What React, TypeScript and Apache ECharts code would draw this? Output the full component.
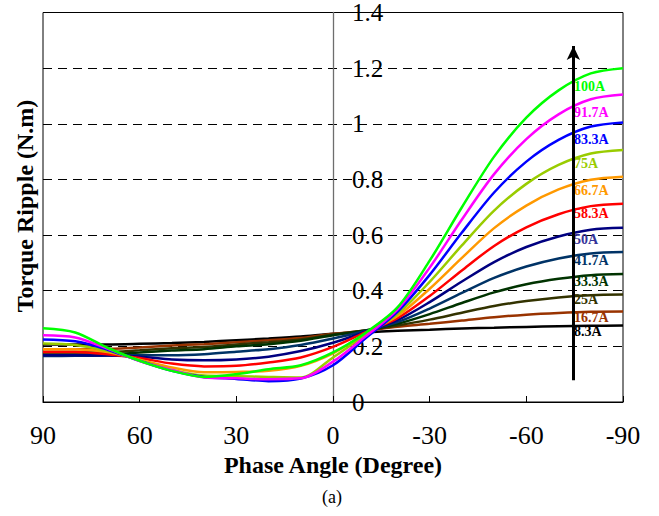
import React, { useEffect, useRef } from "react";
import * as echarts from "echarts";

// ---------- data ----------
const angles = [90, 80, 70, 60, 50, 40, 30, 20, 10, 0, -10, -20, -30, -40, -50, -60, -70, -80, -90];

const seriesNames = ["8.3A", "16.7A", "25A", "33.3A", "41.7A", "50A", "58.3A", "66.7A", "75A", "83.3A", "91.7A", "100A"];

const s8_3 = [0.207, 0.207, 0.207, 0.209, 0.212, 0.216, 0.222, 0.228, 0.235, 0.245, 0.25, 0.256, 0.26, 0.264, 0.267, 0.27, 0.272, 0.274, 0.275];
const s16_7 = [0.19, 0.19, 0.191, 0.196, 0.203, 0.208, 0.215, 0.222, 0.23, 0.245, 0.256, 0.27, 0.281, 0.293, 0.305, 0.314, 0.32, 0.324, 0.325];
const s25 = [0.178, 0.178, 0.179, 0.186, 0.193, 0.198, 0.207, 0.215, 0.225, 0.243, 0.257, 0.275, 0.296, 0.321, 0.345, 0.363, 0.376, 0.384, 0.386];
const s33_3 = [0.17, 0.17, 0.171, 0.178, 0.185, 0.19, 0.2, 0.208, 0.22, 0.24, 0.257, 0.281, 0.316, 0.356, 0.394, 0.423, 0.443, 0.456, 0.46];
const s41_7 = [0.165, 0.166, 0.167, 0.168, 0.168, 0.172, 0.181, 0.19, 0.205, 0.228, 0.255, 0.287, 0.336, 0.392, 0.446, 0.487, 0.516, 0.534, 0.539];
const s50 = [0.168, 0.168, 0.167, 0.163, 0.153, 0.15, 0.153, 0.163, 0.183, 0.213, 0.252, 0.294, 0.359, 0.433, 0.503, 0.557, 0.595, 0.619, 0.626];
const s58_3 = [0.18, 0.18, 0.172, 0.158, 0.138, 0.128, 0.13, 0.142, 0.16, 0.198, 0.25, 0.301, 0.381, 0.473, 0.561, 0.628, 0.675, 0.704, 0.713];
const s66_7 = [0.19, 0.19, 0.18, 0.152, 0.124, 0.107, 0.108, 0.112, 0.13, 0.175, 0.245, 0.309, 0.407, 0.518, 0.625, 0.706, 0.764, 0.799, 0.81];
const s75 = [0.21, 0.205, 0.183, 0.15, 0.115, 0.095, 0.093, 0.09, 0.088, 0.16, 0.24, 0.316, 0.432, 0.563, 0.688, 0.784, 0.852, 0.893, 0.906];
const s83_3 = [0.225, 0.218, 0.188, 0.148, 0.112, 0.09, 0.083, 0.075, 0.084, 0.132, 0.228, 0.324, 0.457, 0.609, 0.753, 0.864, 0.942, 0.99, 1.005];
const s91_7 = [0.24, 0.232, 0.192, 0.147, 0.115, 0.088, 0.085, 0.082, 0.085, 0.145, 0.235, 0.332, 0.483, 0.656, 0.819, 0.945, 1.034, 1.088, 1.105];
const s100 = [0.265, 0.25, 0.195, 0.148, 0.112, 0.09, 0.1, 0.118, 0.132, 0.178, 0.248, 0.34, 0.508, 0.7, 0.882, 1.022, 1.12, 1.181, 1.2];

const seriesValues = [s8_3, s16_7, s25, s33_3, s41_7, s50, s58_3, s66_7, s75, s83_3, s91_7, s100];

// arrow annotation (data coords)
const arrowAngle = -74.6;
const arrowFrom = 0.078;
const arrowTo = 1.28;

// ---------- styles / layout ----------
const seriesColors = ["#000000", "#993300", "#333300", "#003300", "#003366", "#000080", "#ff0000", "#ff9900", "#99cc00", "#0000ff", "#ff00ff", "#00ff00"];
const labelColors = ["#000000", "#993300", "#333300", "#003300", "#003366", "#333399", "#ff0000", "#ff9900", "#99cc00", "#0000ff", "#ff00ff", "#00ff00"];
const labelX = 574;
const labelYs = [331, 317, 299, 281, 260, 239.5, 213, 190.5, 163.5, 139, 112.5, 86];
const FONT = '"Liberation Serif", "Times New Roman", serif';
const GRID_LEFT = 43;
const GRID_RIGHT = 36;
const CHART_W = 659;

export default function App() {
  const ref = useRef<HTMLDivElement>(null);

  useEffect(() => {
    if (!ref.current) return;
    const chart = echarts.init(ref.current, null, { renderer: "svg" });

    const series: any[] = seriesValues.map((vals, si) => ({
      name: seriesNames[si],
      type: "line",
      data: angles.map((a, i) => [a, vals[i]]),
      showSymbol: false,
      smooth: 0.3,
      lineStyle: { color: seriesColors[si], width: 2.5 },
      itemStyle: { color: seriesColors[si] },
      z: 2 + si * 0.01,
    }));

    series.push({
      name: "arrow",
      type: "line",
      data: [],
      z: 5,
      markLine: {
        silent: true,
        symbol: ["none", "arrow"],
        symbolSize: [10, 14],
        label: { show: false },
        lineStyle: { color: "#000", width: 3, type: "solid" },
        data: [[{ coord: [arrowAngle, arrowFrom] }, { coord: [arrowAngle, arrowTo] }]],
      },
    });

    const graphics: any[] = seriesNames.map((n, i) => ({
      type: "text",
      x: labelX,
      y: labelYs[i],
      z: 1,
      style: {
        text: n,
        fill: labelColors[i],
        font: `bold 14px ${FONT}`,
        align: "left",
        verticalAlign: "middle",
      },
    }));
    graphics.push({
      type: "text",
      x: 25,
      y: 206,
      rotation: Math.PI / 2,
      style: {
        text: "Torque Ripple (N.m)",
        fill: "#000",
        font: `bold 24px ${FONT}`,
        align: "center",
        verticalAlign: "middle",
      },
    });
    graphics.push({
      type: "text",
      x: 332,
      y: 497,
      style: {
        text: "(a)",
        fill: "#000",
        font: `18px ${FONT}`,
        align: "center",
        verticalAlign: "middle",
      },
    });

    // y axis sits at phase angle 0 (middle of the plot width)
    const plotW = CHART_W - GRID_LEFT - GRID_RIGHT;
    const yAxisOffset = -plotW / 2;

    chart.setOption({
      animation: false,
      backgroundColor: "#fff",
      textStyle: { fontFamily: FONT },
      grid: {
        left: GRID_LEFT,
        right: GRID_RIGHT,
        top: 10,
        bottom: 114,
        show: true,
        borderColor: "#000",
        borderWidth: 1,
        backgroundColor: "transparent",
      },
      xAxis: {
        type: "value",
        min: -90,
        max: 90,
        interval: 30,
        inverse: true,
        name: "Phase Angle (Degree)",
        nameLocation: "middle",
        nameGap: 48,
        nameTextStyle: { fontFamily: FONT, fontWeight: "bold", fontSize: 24, color: "#000" },
        axisLine: { show: true, onZero: false, lineStyle: { color: "#000", width: 1 } },
        axisTick: { show: true, inside: true, length: 6, lineStyle: { color: "#000" } },
        axisLabel: { fontFamily: FONT, fontSize: 26, color: "#000", margin: 20 },
        splitLine: { show: false },
      },
      yAxis: {
        type: "value",
        min: 0,
        max: 1.4,
        interval: 0.2,
        position: "left",
        offset: yAxisOffset,
        axisLine: { show: true, onZero: false, lineStyle: { color: "#6e6e6e", width: 1.3 } },
        axisTick: { show: false },
        axisLabel: { inside: false, margin: -19, align: "left", fontFamily: FONT, fontSize: 25, color: "#000" },
        splitLine: { show: true, lineStyle: { color: "#000", width: 1, type: [9, 6] } },
      },
      graphic: graphics,
      series,
    });

    return () => chart.dispose();
  }, []);

  return (
    <div
      ref={ref}
      style={{ position: "fixed", left: 0, top: 0, width: CHART_W, height: 516, background: "#fff" }}
    />
  );
}
